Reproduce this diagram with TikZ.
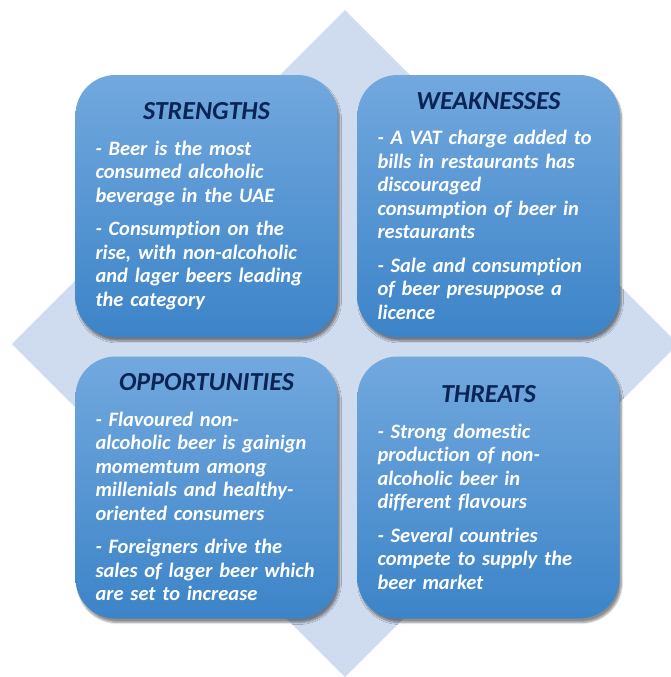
\documentclass[tikz,border=0pt]{standalone}
\usepackage{fontspec}
\setmainfont{Carlito}[Ligatures=NoCommon]
\usetikzlibrary{shadows.blur}
\definecolor{DiamondBlue}{RGB}{207,219,238}
\definecolor{BoxTop}{RGB}{114,168,222}
\definecolor{BoxBottom}{RGB}{60,132,200}
\definecolor{TitleNavy}{RGB}{10,36,86}
\newcommand{\swottitle}[1]{{\centering\fontsize{26}{30}\selectfont\color{TitleNavy}#1\par}\vspace{12pt}}

\begin{document}
\begin{tikzpicture}[x=1pt, y=-1pt]
    \tikzset{
        swotbox/.style={rectangle, rounded corners=40pt, top color=BoxTop,
            bottom color=BoxBottom, draw=none, text=white,
            minimum width=262pt, minimum height=262pt, text width=226pt,
            inner xsep=18pt, align=left,
            font=\fontsize{20.5}{23.5}\selectfont\bfseries\itshape,
            blur shadow={shadow xshift=2pt, shadow yshift=-4pt,
                shadow blur steps=8, shadow opacity=45}}
    }
    \useasboundingbox (0,0) rectangle (671,677);
    \clip (0,0) rectangle (671,677);
    % background diamond
    \fill[DiamondBlue] (345,10) -- (678,344) -- (345,677) -- (12,344) -- cycle;
    % the four quadrants
    \node[swotbox] (strengths) at (206.5,206) {\swottitle{STRENGTHS}
        \hspace*{2pt}- Beer is the most\\ \hspace*{2pt}consumed alcoholic\\ \hspace*{2pt}beverage in the UAE\\[10pt]
        \hspace*{2pt}- Consumption on the\\ \hspace*{2pt}rise, with non-alcoholic\\ \hspace*{2pt}and lager beers leading\\ \hspace*{2pt}the category};
    \node[swotbox] (weaknesses) at (488.5,206) {\swottitle{WEAKNESSES}
        \hspace*{2pt}- A VAT charge added to\\ \hspace*{2pt}bills in restaurants has\\ \hspace*{2pt}discouraged\\ \hspace*{2pt}consumption of beer in\\ \hspace*{2pt}restaurants\\[10pt]
        \hspace*{2pt}- Sale and consumption\\ \hspace*{2pt}of beer presuppose a\\ \hspace*{2pt}licence};
    \node[swotbox] (opportunities) at (206.5,487.5) {\swottitle{OPPORTUNITIES}
        \hspace*{2pt}- Flavoured non-\\ \hspace*{2pt}alcoholic beer is gainign\\ \hspace*{2pt}momemtum among\\ \hspace*{2pt}millenials and healthy-\\ \hspace*{2pt}oriented consumers\\[10pt]
        \hspace*{2pt}- Foreigners drive the\\ \hspace*{2pt}sales of lager beer which\\ \hspace*{2pt}are set to increase};
    \node[swotbox] (threats) at (488.5,487.5) {\swottitle{THREATS}
        \hspace*{2pt}- Strong domestic\\ \hspace*{2pt}production of non-\\ \hspace*{2pt}alcoholic beer in\\ \hspace*{2pt}different flavours\\[10pt]
        \hspace*{2pt}- Several countries\\ \hspace*{2pt}compete to supply the\\ \hspace*{2pt}beer market};
\end{tikzpicture}
\end{document}
